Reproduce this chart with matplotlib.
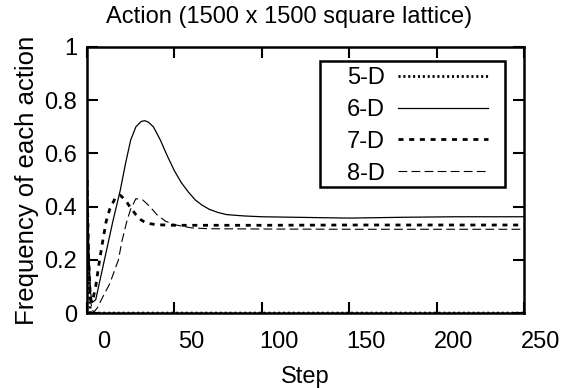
import matplotlib
matplotlib.use('Agg')
import matplotlib.pyplot as plt
import matplotlib.transforms as mtransforms
from matplotlib.patches import Rectangle

plt.rcParams['font.family'] = ['Liberation Sans', 'DejaVu Sans']
plt.rcParams['lines.scale_dashes'] = False

# values
steps_5d = [0, 1, 2, 4, 250]
freq_5d = [0.5, 0.12, 0.0, 0.0, 0.0]

steps_6d = [0, 1, 2, 3, 5, 7, 9, 12, 15, 19, 22, 25, 28, 31, 33, 35, 38, 42, 46, 50, 54, 58, 62, 66, 70, 75, 80, 90, 100, 120, 150, 180, 210, 250]
freq_6d = [0.5, 0.25, 0.08, 0.04, 0.05, 0.11, 0.17, 0.26, 0.35, 0.46, 0.56, 0.65, 0.7, 0.72, 0.723, 0.718, 0.70, 0.65, 0.59, 0.535, 0.49, 0.455, 0.425, 0.405, 0.39, 0.378, 0.37, 0.365, 0.362, 0.36, 0.357, 0.36, 0.362, 0.362]

steps_7d = [0, 1, 2, 3, 5, 7, 9, 11, 13, 16, 19, 22, 25, 28, 31, 34, 40, 50, 100, 150, 200, 250]
freq_7d = [0.5, 0.2, 0.05, 0.04, 0.1, 0.19, 0.27, 0.345, 0.39, 0.43, 0.443, 0.425, 0.395, 0.37, 0.35, 0.338, 0.332, 0.33, 0.33, 0.331, 0.331, 0.331]

steps_8d = [0, 1, 2, 3, 4, 6, 9, 13, 18, 20, 23, 25, 28, 32, 36, 40, 45, 51, 60, 70, 100, 150, 200, 250]
freq_8d = [0.5, 0.2, 0.05, 0.01, 0.005, 0.02, 0.06, 0.11, 0.2, 0.27, 0.35, 0.39, 0.43, 0.425, 0.4, 0.37, 0.345, 0.331, 0.32, 0.317, 0.316, 0.315, 0.315, 0.315]

x_ticks = [0, 50, 100, 150, 200, 250]
y_ticks = [0, 0.2, 0.4, 0.6, 0.8, 1]
y_tick_labels = ['0', '0.2', '0.4', '0.6', '0.8', '1']

fig = plt.figure(figsize=(5.61, 3.88), dpi=100)
ax = fig.add_axes([0.155, 0.193, 0.779, 0.686])

ax.plot(steps_5d, freq_5d, color='black', lw=2.0, dashes=(1.5, 2.0), label='5-D')
ax.plot(steps_6d, freq_6d, color='black', lw=0.9, label='6-D')
ax.plot(steps_7d, freq_7d, color='black', lw=2.0, dashes=(3.6, 4.1), label='7-D')
ax.plot(steps_8d, freq_8d, color='black', lw=0.8, dashes=(6.3, 3.1), label='8-D')

ax.set_xlim(0, 250)
ax.set_ylim(0, 1)
ax.set_xticks(x_ticks)
ax.set_yticks(y_ticks)
ax.set_yticklabels(y_tick_labels)
ax.tick_params(direction='in', length=8, width=1.5, top=True, right=True, labelsize=17)
ax.tick_params(axis='x', pad=13)
ax.tick_params(axis='y', pad=7)
for sp in ax.spines.values():
    sp.set_linewidth(1.8)

# the x tick labels sit a bit right of their tick marks in the original
shift = mtransforms.ScaledTranslation(17 / 100, 0, fig.dpi_scale_trans)
for lbl in ax.get_xticklabels():
    lbl.set_transform(lbl.get_transform() + shift)

ax.set_xlabel('Step', fontsize=17, labelpad=9)
ax.set_ylabel('Frequency of each action', fontsize=18.5, labelpad=4)
ax.set_title('Action (1500 x 1500 square lattice)', fontsize=17, x=0.463, pad=17)

# legend: text left of the samples, inside a plain box
leg = ax.legend(loc='upper left', bbox_to_anchor=(0.595, 0.925), markerfirst=False,
                fontsize=17, handlelength=3.8, handletextpad=0.55, labelspacing=0.42,
                borderaxespad=0, borderpad=0, frameon=False)
ax.add_patch(Rectangle((0.533, 0.474), 0.424, 0.473, transform=ax.transAxes,
                       fill=False, edgecolor='black', lw=1.8, zorder=5))

fig.savefig('out.png', dpi=100)
